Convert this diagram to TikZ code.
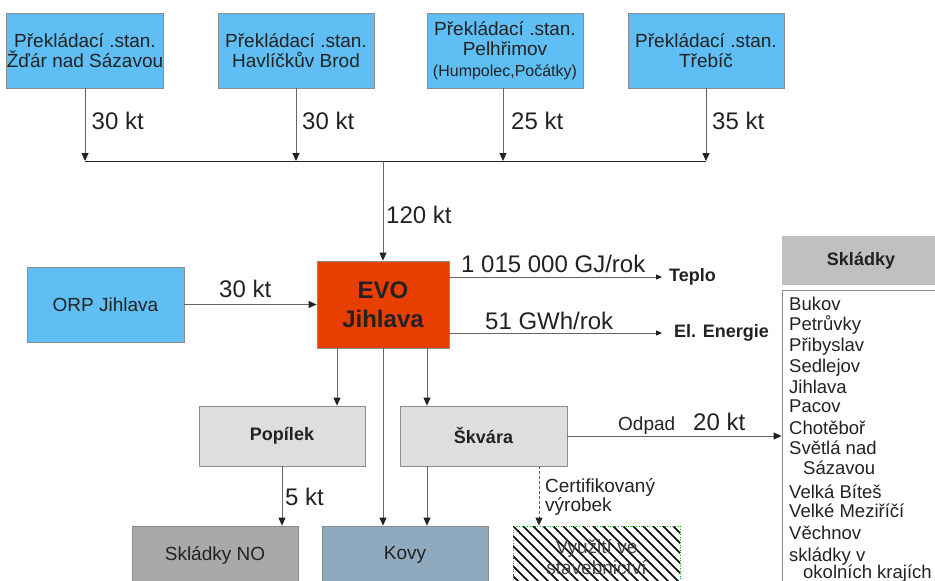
\documentclass[tikz,border=0pt]{standalone}
\usepackage{fontspec}
\setmainfont{Liberation Sans}
\usetikzlibrary{arrows.meta}
\definecolor{lblue}{HTML}{5FBFF4}
\definecolor{evoc}{HTML}{E83E00}
\definecolor{lgray}{HTML}{DEDEDE}
\definecolor{mgray}{HTML}{A9A9A9}
\definecolor{hgray}{HTML}{C0C0C0}
\definecolor{kovyc}{HTML}{8FAABF}
\definecolor{bgray}{HTML}{8C8C8C}
\definecolor{lgr}{HTML}{666666}
\definecolor{txt}{HTML}{222222}
\begin{document}
\begin{tikzpicture}[x=1pt,y=-1pt,
  box/.style={draw=bgray, line width=0.8pt, inner sep=0pt, align=center, text=txt},
  bluebox/.style={box, fill=lblue, minimum width=156pt, minimum height=75pt, font=\fontsize{19}{20}\selectfont},
  graybox/.style={box, fill=lgray, minimum width=166pt, minimum height=60pt, font=\fontsize{18}{20}\selectfont\bfseries},
  arr/.style={draw=lgr, line width=0.9pt, -{Triangle[length=8pt,width=7pt,color=txt]}},
  sarr/.style={draw=lgr, line width=0.9pt, -{Triangle[length=6pt,width=5pt,color=txt]}},
  lbl/.style={anchor=base west, inner sep=0pt, text=txt, font=\fontsize{24}{26}\selectfont},
  slbl/.style={anchor=base west, inner sep=0pt, text=txt, font=\fontsize{19}{21}\selectfont},
  blbl/.style={anchor=base west, inner sep=0pt, text=txt, font=\fontsize{18}{20}\selectfont\bfseries},
  item/.style={anchor=base west, inner sep=0pt, text=txt, font=\fontsize{18.5}{21}\selectfont}
]
\useasboundingbox (0,0) rectangle (935,581);

% top boxes
\node[bluebox] (b1) at (85,50.5) {Překládací .stan.\\Žďár nad Sázavou};
\node[bluebox] (b2) at (296,50.5) {Překládací .stan.\\Havlíčkův Brod};
\node[bluebox] (b3) at (505,50.5) {Překládací .stan.\\Pelhřimov\\[1pt]{\fontsize{16}{17}\selectfont(Humpolec,Počátky)}};
\node[bluebox] (b4) at (706,50.5) {Překládací .stan.\\Třebíč};

% bus
\coordinate (j1) at (85,161);
\coordinate (j2) at (296,161);
\coordinate (j3) at (503,161);
\coordinate (j4) at (706,161);
\coordinate (jc) at (383,161);
\draw[draw=txt, line width=0.9pt] (j1) -- (j4);
\draw[arr] (b1.south -| j1) -- (j1);
\draw[arr] (b2.south -| j2) -- (j2);
\draw[arr] (b3.south -| j3) -- (j3);
\draw[arr] (b4.south -| j4) -- (j4);
\node[lbl] (l1) at (91.5,129.5) {30 kt};
\node[lbl] (l2) at (302,129.5) {30 kt};
\node[lbl] (l3) at (511,129.5) {25 kt};
\node[lbl] (l4) at (712,129.5) {35 kt};

% EVO
\node[box, fill=evoc, minimum width=132pt, minimum height=87pt,
      font=\fontsize{24}{29}\selectfont\bfseries] (evo) at (383,304.5) {EVO\\Jihlava};
\draw[arr] (jc) -- (evo.north);
\node[lbl] (l120) at (386,223) {120 kt};

% ORP
\node[bluebox, minimum width=157pt] (orp) at (105.5,304.5) {ORP Jihlava};
\draw[arr] (orp.east) -- (orp.east -| evo.west);
\node[lbl] (lorp) at (219,297) {30 kt};

% outputs
\node[blbl, anchor=west, inner xsep=7pt] (teplo) at (662,277) {Teplo};
\node[blbl, anchor=west, inner xsep=12pt] (elen) at (662,333) {El. Energie};
\draw[sarr] (evo.east |- teplo.west) -- (teplo.west);
\draw[sarr] (evo.east |- elen.west) -- (elen.west);
\node[lbl] (lgj) at (461,272) {1 015 000 GJ/rok};
\node[lbl] (lgw) at (485,329) {51 GWh/rok};

% Skladky list
\node[box, draw=none, fill=hgray, minimum width=158pt, minimum height=49pt,
      font=\fontsize{18}{20}\selectfont\bfseries] (skh) at (861,260.5) {Skládky};
\node[draw=bgray, line width=0.8pt, fill=white, minimum width=158pt, minimum height=310pt, inner sep=0pt] (skl) at (861,445) {};
\foreach \t/\y [count=\i] in {Bukov/310, Petrůvky/330.5, Přibyslav/351.5, Sedlejov/372.5,
   Jihlava/393, Pacov/412.5, Chotěboř/434, Světlá nad/454,
   \hspace*{14pt}Sázavou/474, Velká Bíteš/498, Velké Meziříčí/517, Věchnov/539,
   skládky v/561, \hspace*{14pt}okolních krajích/578.5}
  \node[item] (it\i) at (789,\y) {\t};

% lower boxes
\node[graybox] (pop) at (282,436) {Popílek};
\node[graybox, minimum width=167pt] (skv) at (483.5,436) {Škvára};
\node[box, fill=mgray, minimum width=166pt, minimum height=58pt, font=\fontsize{19}{21}\selectfont] (sno) at (215,555) {Skládky NO};
\node[box, fill=kovyc, minimum width=166pt, minimum height=58pt, font=\fontsize{19}{21}\selectfont] (kovy) at (405,555) {Kovy};

\coordinate (x1) at (337,0);
\coordinate (x2) at (383,0);
\coordinate (x3) at (427,0);
\coordinate (x4) at (539,0);
\draw[arr] (evo.south -| x1) -- (pop.north -| x1);
\draw[arr] (evo.south -| x2) -- (kovy.north -| x2);
\draw[arr] (evo.south -| x3) -- (skv.north -| x3);
\draw[arr] (skv.south -| x3) -- (kovy.north -| x3);
\draw[arr] (pop.south) -- (sno.north -| pop.south);
\node[lbl] (l5) at (285,505) {5 kt};

% odpad
\draw[arr] (skv.east) -- (skv.east -| skl.west);
\node[slbl] (lod) at (618,430) {Odpad};
\node[lbl] (l20) at (693,430) {20 kt};

% hatched box
\coordinate (hnw) at (513,526);
\coordinate (hse) at (680,590);
\begin{scope}
  \clip (hnw) rectangle (hse);
  \foreach \i in {0,...,25}
    \draw[line width=1.5pt, black] (443+\i*10,526) -- ++(70,70);
\end{scope}
\draw[draw=green!70!black, dotted, line width=0.6pt] (hnw |- hse) -- (hnw) -- (hse |- hnw) -- (hse);
\node[box, draw=none, minimum width=167pt, minimum height=62pt, font=\fontsize{19}{21}\selectfont, text=txt!85] (vyu) at (596.5,557) {Využití ve\\stavebnictví};
\draw[draw=lgr, line width=0.9pt, dash pattern=on 3pt off 2pt, -{Triangle[length=8pt,width=7pt,color=txt]}] (skv.south -| x4) -- (vyu.north -| x4);
\node[slbl] (lcert) at (545,492) {Certifikovaný};
\node[slbl] (lvyr) at (545,511) {výrobek};
\end{tikzpicture}
\end{document}
